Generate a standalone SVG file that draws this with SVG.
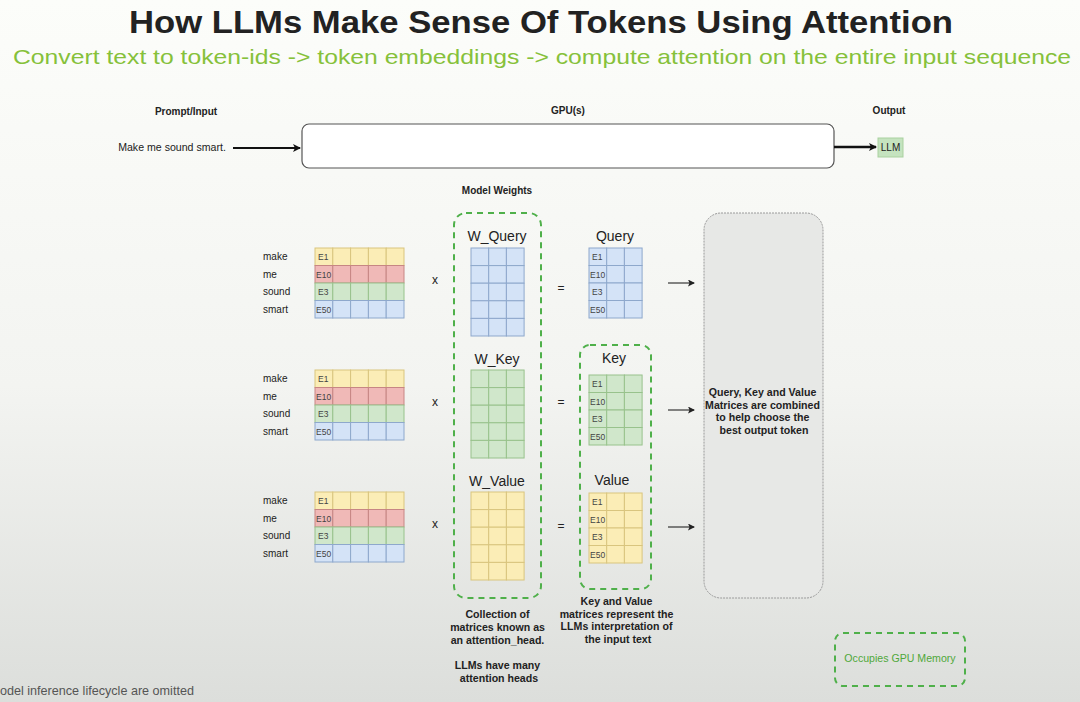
<svg xmlns="http://www.w3.org/2000/svg" width="1080" height="702" viewBox="0 0 1080 702">
<defs>
<linearGradient id="bg" x1="0" y1="0" x2="0" y2="1">
<stop offset="0" stop-color="#fcfdfa"/>
<stop offset="0.55" stop-color="#f3f4f1"/>
<stop offset="1" stop-color="#dcdedb"/>
</linearGradient>
<marker id="ah" markerWidth="8" markerHeight="8" refX="7" refY="4" orient="auto" markerUnits="userSpaceOnUse">
<path d="M0,0 L8,4 L0,8 L2,4 Z" fill="#111"/>
</marker>
<marker id="ahs" markerWidth="7" markerHeight="7" refX="6" refY="3.5" orient="auto" markerUnits="userSpaceOnUse">
<path d="M0,0 L7,3.5 L0,7 L1.5,3.5 Z" fill="#222"/>
</marker>
<g id="row5">
<rect x="0" y="0" width="17.8" height="17.5"/>
<rect x="17.8" y="0" width="17.8" height="17.5"/>
<rect x="35.6" y="0" width="17.8" height="17.5"/>
<rect x="53.4" y="0" width="17.8" height="17.5"/>
<rect x="71.2" y="0" width="17.8" height="17.5"/>
</g>
<g id="row3w">
<rect x="0" y="0" width="17.7" height="17.6"/>
<rect x="17.7" y="0" width="17.7" height="17.6"/>
<rect x="35.4" y="0" width="17.7" height="17.6"/>
</g>
<g id="row3o">
<rect x="0" y="0" width="17.7" height="17.5"/>
<rect x="17.7" y="0" width="17.7" height="17.5"/>
<rect x="35.4" y="0" width="17.7" height="17.5"/>
</g>
<g id="mat5w">
<use href="#row3w" y="0"/><use href="#row3w" y="17.6"/><use href="#row3w" y="35.2"/><use href="#row3w" y="52.8"/><use href="#row3w" y="70.4"/>
</g>
<g id="mat4o">
<use href="#row3o" y="0"/><use href="#row3o" y="17.5"/><use href="#row3o" y="35"/><use href="#row3o" y="52.5"/>
</g>
</defs>
<style>
.t{font-family:"Liberation Sans",Arial,sans-serif;fill:#222}
.lbl{font-size:10px}
.b{font-weight:bold}
.nb{font-size:10.6px;font-weight:bold}
.cell{font-size:8.5px;fill:#444}
.big{font-size:14px;fill:#222}
.y{fill:#fbedb6;stroke:#d9c57e;stroke-width:1}
.r{fill:#f0b9b7;stroke:#c78684;stroke-width:1}
.g{fill:#d0e7cb;stroke:#98c28c;stroke-width:1}
.bl{fill:#d4e3f7;stroke:#8ea8cc;stroke-width:1}
.dash{fill:none;stroke:#4fb04a;stroke-width:2;stroke-dasharray:6 5}
.conn{stroke:#111;fill:none}
.op{font-size:12px;fill:#222}
</style>
<rect width="1080" height="702" fill="url(#bg)"/>

<g id="title">
<text class="t b" x="541" y="33" text-anchor="middle" font-size="32" fill="#111" textLength="824" lengthAdjust="spacingAndGlyphs">How LLMs Make Sense Of Tokens Using Attention</text>
<text x="542" y="64" text-anchor="middle" font-family="Liberation Sans,Arial,sans-serif" font-size="21" fill="#86c13a" textLength="1058" lengthAdjust="spacingAndGlyphs">Convert text to token-ids -&gt; token embeddings -&gt; compute attention on the entire input sequence</text>
</g>

<g id="prompt">
<text class="t lbl b" x="186" y="115" text-anchor="middle">Prompt/Input</text>
<text class="t" x="172" y="151" text-anchor="middle" font-size="10.6" fill="#333">Make me sound smart.</text>
</g>
<g id="gpu">
<text class="t lbl b" x="568" y="114" text-anchor="middle">GPU(s)</text>
<rect x="302" y="124" width="532" height="44" rx="7" fill="#fff" stroke="#555" stroke-width="1.2"/>
</g>
<g id="output">
<text class="t lbl b" x="889" y="114" text-anchor="middle">Output</text>
<rect x="878" y="138" width="25" height="19" fill="#c5e3bf" stroke="#a9d19f"/>
<text class="t" x="890.5" y="151" text-anchor="middle" font-size="10" fill="#333">LLM</text>
</g>

<g id="model-weights-label">
<text class="t lbl b" x="497" y="194" text-anchor="middle">Model Weights</text>
</g>

<g id="inputs">
<g id="input-q">
<text class="t lbl" x="263" y="260">make</text>
<text class="t lbl" x="263" y="278">me</text>
<text class="t lbl" x="263" y="295">sound</text>
<text class="t lbl" x="263" y="313">smart</text>
<use href="#row5" x="315" y="248" class="y"/>
<use href="#row5" x="315" y="265.5" class="r"/>
<use href="#row5" x="315" y="283" class="g"/>
<use href="#row5" x="315" y="300.5" class="bl"/>
<text class="t cell" x="318" y="260">E1</text>
<text class="t cell" x="316" y="277.5">E10</text>
<text class="t cell" x="318" y="295">E3</text>
<text class="t cell" x="316" y="312.5">E50</text>
</g>
<g id="input-k">
<text class="t lbl" x="263" y="382">make</text>
<text class="t lbl" x="263" y="400">me</text>
<text class="t lbl" x="263" y="417">sound</text>
<text class="t lbl" x="263" y="435">smart</text>
<use href="#row5" x="315" y="370" class="y"/>
<use href="#row5" x="315" y="387.5" class="r"/>
<use href="#row5" x="315" y="405" class="g"/>
<use href="#row5" x="315" y="422.5" class="bl"/>
<text class="t cell" x="318" y="382">E1</text>
<text class="t cell" x="316" y="399.5">E10</text>
<text class="t cell" x="318" y="417">E3</text>
<text class="t cell" x="316" y="434.5">E50</text>
</g>
<g id="input-v">
<text class="t lbl" x="263" y="504">make</text>
<text class="t lbl" x="263" y="522">me</text>
<text class="t lbl" x="263" y="539">sound</text>
<text class="t lbl" x="263" y="557">smart</text>
<use href="#row5" x="315" y="492" class="y"/>
<use href="#row5" x="315" y="509.5" class="r"/>
<use href="#row5" x="315" y="527" class="g"/>
<use href="#row5" x="315" y="544.5" class="bl"/>
<text class="t cell" x="318" y="504">E1</text>
<text class="t cell" x="316" y="521.5">E10</text>
<text class="t cell" x="318" y="539">E3</text>
<text class="t cell" x="316" y="556.5">E50</text>
</g>
</g>

<g id="operators">
<text class="t op" x="435" y="284" text-anchor="middle">x</text>
<text class="t op" x="435" y="406" text-anchor="middle">x</text>
<text class="t op" x="435" y="528" text-anchor="middle">x</text>
<text class="t op" x="561" y="292" text-anchor="middle">=</text>
<text class="t op" x="561" y="406" text-anchor="middle">=</text>
<text class="t op" x="561" y="530" text-anchor="middle">=</text>
</g>

<g id="attention-head">
<rect class="dash" x="454" y="213" width="87" height="385" rx="12"/>
<text class="t big" x="497" y="241" text-anchor="middle">W_Query</text>
<use href="#mat5w" x="471" y="248" class="bl"/>
<text class="t big" x="497" y="364" text-anchor="middle">W_Key</text>
<use href="#mat5w" x="471" y="370" class="g"/>
<text class="t big" x="497" y="486" text-anchor="middle">W_Value</text>
<use href="#mat5w" x="471" y="492" class="y"/>
</g>

<g id="query">
<text class="t big" x="615" y="241" text-anchor="middle">Query</text>
<use href="#mat4o" x="589" y="248" class="bl"/>
<text class="t cell" x="592" y="260">E1</text>
<text class="t cell" x="590" y="277.5">E10</text>
<text class="t cell" x="592" y="295">E3</text>
<text class="t cell" x="590" y="312.5">E50</text>
</g>

<g id="kv-group">
<rect class="dash" x="580" y="345" width="71" height="244" rx="10"/>
<text class="t big" x="614" y="363" text-anchor="middle">Key</text>
<use href="#mat4o" x="589" y="375" class="g"/>
<text class="t cell" x="592" y="387">E1</text>
<text class="t cell" x="590" y="404.5">E10</text>
<text class="t cell" x="592" y="422">E3</text>
<text class="t cell" x="590" y="439.5">E50</text>
<text class="t big" x="612" y="485" text-anchor="middle">Value</text>
<use href="#mat4o" x="589" y="493" class="y"/>
<text class="t cell" x="592" y="505">E1</text>
<text class="t cell" x="590" y="522.5">E10</text>
<text class="t cell" x="592" y="540">E3</text>
<text class="t cell" x="590" y="557.5">E50</text>
</g>

<g id="combine">
<rect x="704" y="213" width="119" height="385" rx="17" fill="#e7e8e6" stroke="#9a9a9a" stroke-width="1" stroke-dasharray="2 1"/>
<text class="t nb" text-anchor="middle">
<tspan x="764" y="396">Query, Key and Value</tspan>
<tspan x="764" y="408.5">Matrices are combined</tspan>
<tspan x="764" y="421">to help choose the</tspan>
<tspan x="764" y="433.5">best output token</tspan>
</text>
</g>

<g id="notes">
<text class="t nb" text-anchor="middle">
<tspan x="499" y="618">Collection of</tspan>
<tspan x="499" y="631">matrices known as</tspan>
<tspan x="499" y="644">an attention_head.</tspan>
<tspan x="499" y="669">LLMs have many</tspan>
<tspan x="499" y="682">attention heads</tspan>
</text>
<text class="t nb" text-anchor="middle">
<tspan x="618" y="605">Key and Value</tspan>
<tspan x="618" y="617.5">matrices represent the</tspan>
<tspan x="618" y="630">LLMs interpretation of</tspan>
<tspan x="618" y="642.5">the input text</tspan>
</text>
</g>

<g id="legend">
<rect class="dash" x="835" y="633" width="130" height="53" rx="8"/>
<text x="900" y="662" text-anchor="middle" font-family="Liberation Sans,Arial,sans-serif" font-size="10.6" fill="#4fa83a">Occupies GPU Memory</text>
</g>

<g id="footnote">
<text x="0" y="695" font-family="Liberation Sans,Arial,sans-serif" font-size="12.6" fill="#555">odel inference lifecycle are omitted</text>
</g>

<g id="connectors">
<line class="conn" x1="233" y1="148" x2="300" y2="148" stroke-width="2" marker-end="url(#ah)"/>
<line class="conn" x1="834" y1="147" x2="876" y2="147" stroke-width="2.5" marker-end="url(#ah)"/>
<line class="conn" x1="668" y1="283" x2="694" y2="283" stroke-width="1" marker-end="url(#ahs)"/>
<line class="conn" x1="668" y1="410" x2="694" y2="410" stroke-width="1" marker-end="url(#ahs)"/>
<line class="conn" x1="668" y1="527" x2="694" y2="527" stroke-width="1" marker-end="url(#ahs)"/>
</g>
</svg>
